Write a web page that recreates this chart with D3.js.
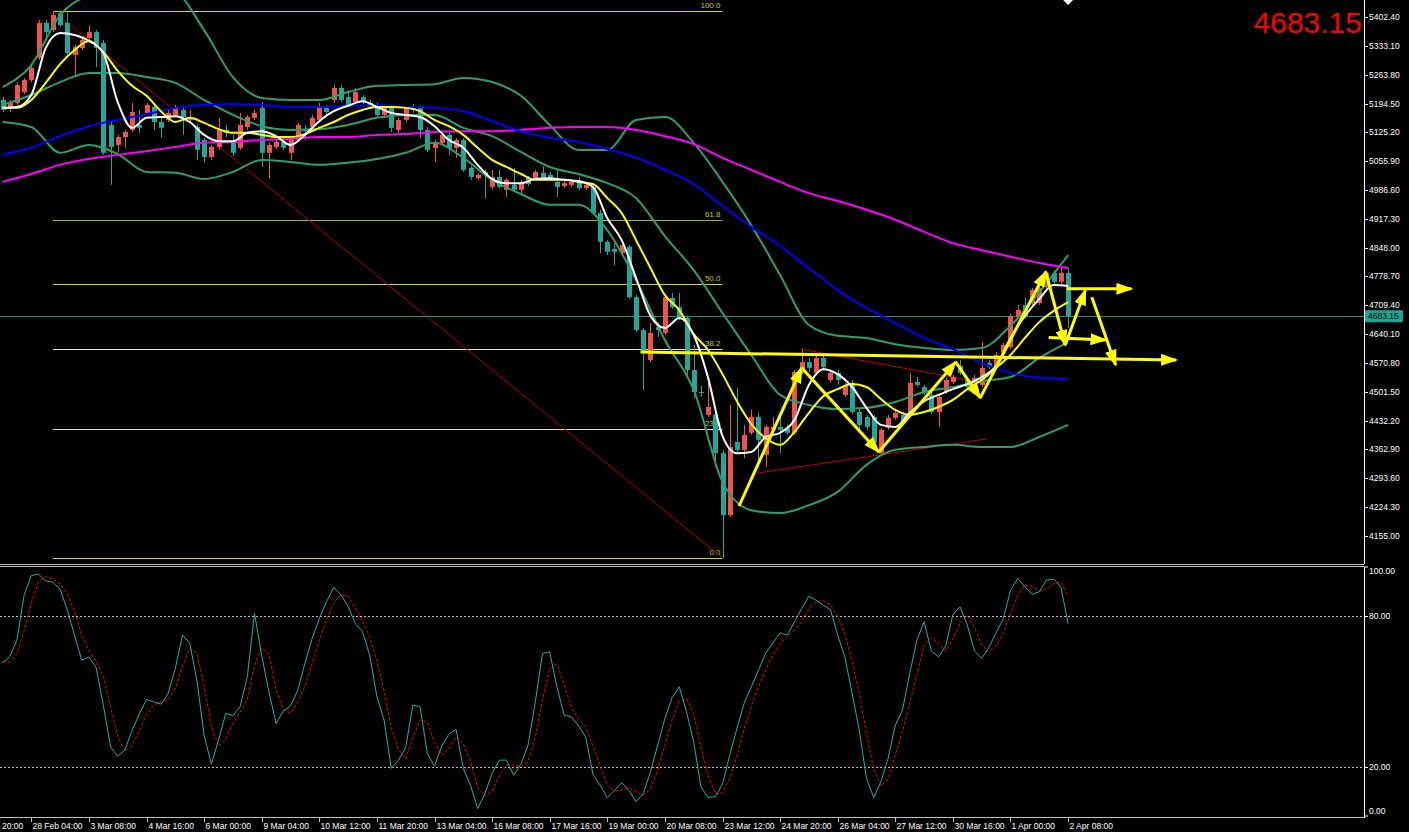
<!DOCTYPE html>
<html><head><meta charset="utf-8">
<script src="https://cdn.jsdelivr.net/npm/d3@7"></script>
<style>
html,body{margin:0;padding:0;background:#000;overflow:hidden}
svg{display:block}
text{font-family:"Liberation Sans",Arial,sans-serif}
</style></head><body>
<svg id="c" width="1409" height="832"></svg>
<script>
// ---------- DATA (H4 candles, bar index 0..148) ----------
const opens=[5203,5184,5196,5222,5251,5304,5388,5371,5412,5388,5311,5328,5352,5366,5340,5143,5095,5114,5131,5143,5172,5186,5150,5155,5167,5179,5155,5138,5107,5066,5090,5131,5102,5088,5138,5160,5184,5076,5090,5102,5076,5107,5133,5138,5155,5184,5203,5232,5210,5198,5210,5196,5184,5167,5184,5131,5155,5184,5184,5131,5088,5100,5119,5088,5107,5040,5015,5030,4994,5018,4987,4999,4987,5015,5015,5028,5023,5006,4996,4999,5006,4991,4994,4931,4862,4845,4835,4850,4729,4650,4578,4657,4643,4727,4705,4679,4554,4501,4446,4446,4354,4205,4381,4362,4403,4441,4350,4410,4417,4415,4403,4549,4573,4547,4583,4530,4547,4494,4523,4453,4441,4441,4354,4415,4439,4446,4451,4525,4513,4494,4453,4501,4525,4564,4530,4523,4518,4571,4561,4595,4609,4681,4710,4715,4715,4753,4787,4766,4787];
const highs=[5210,5203,5246,5256,5285,5395,5395,5417,5417,5414,5335,5352,5381,5371,5347,5150,5119,5131,5196,5179,5196,5191,5160,5179,5191,5189,5179,5143,5112,5095,5160,5143,5119,5172,5167,5179,5198,5100,5107,5112,5112,5148,5143,5167,5196,5191,5239,5239,5227,5232,5215,5203,5196,5191,5189,5160,5186,5193,5189,5138,5107,5124,5124,5112,5112,5044,5028,5035,5035,5035,5015,5040,5011,5020,5035,5044,5030,5035,5008,5011,5018,5003,4999,4939,4866,4859,4859,4854,4734,4655,4667,4669,4734,4739,4739,4684,4614,4516,4530,4463,4362,4470,4511,4422,4458,4451,4422,4441,4441,4422,4554,4604,4583,4590,4588,4554,4554,4523,4530,4463,4446,4446,4415,4446,4455,4453,4547,4537,4518,4501,4494,4535,4542,4578,4537,4542,4621,4578,4597,4619,4689,4710,4727,4751,4763,4790,4794,4799,4799];
const lows=[5174,5174,5191,5217,5246,5299,5347,5366,5378,5311,5263,5323,5347,5282,5071,4999,5076,5088,5126,5124,5167,5131,5112,5150,5162,5119,5150,5059,5052,5059,5083,5114,5068,5083,5131,5155,5042,5015,5085,5083,5059,5102,5107,5131,5150,5167,5196,5198,5186,5193,5193,5181,5162,5160,5126,5124,5150,5172,5112,5078,5054,5095,5071,5064,5030,5011,5011,4967,4987,4991,4970,4982,4975,4996,5011,5011,5008,4970,4991,4994,4987,4987,4927,4835,4830,4806,4830,4725,4645,4506,4573,4633,4638,4701,4674,4542,4487,4489,4441,4321,4102,4201,4357,4342,4398,4321,4321,4403,4354,4398,4398,4544,4549,4542,4554,4525,4518,4489,4448,4410,4410,4369,4350,4410,4434,4422,4446,4513,4494,4448,4417,4496,4520,4542,4508,4516,4513,4556,4554,4588,4604,4677,4677,4710,4710,4749,4761,4761,4655];
const closes=[5179,5196,5239,5251,5280,5388,5366,5407,5383,5316,5330,5347,5366,5328,5076,5090,5114,5126,5174,5136,5191,5150,5136,5172,5184,5162,5160,5083,5066,5090,5131,5124,5076,5143,5162,5172,5076,5095,5102,5088,5107,5143,5128,5160,5184,5174,5232,5203,5191,5222,5198,5186,5167,5186,5136,5155,5184,5179,5131,5083,5100,5119,5088,5107,5035,5018,5023,5023,5018,4994,5011,4987,5006,5001,5030,5015,5013,4994,5003,5006,4991,4999,4931,4862,4838,4838,4854,4729,4650,4595,4643,4650,4729,4705,4681,4554,4501,4499,4465,4354,4205,4369,4362,4398,4441,4386,4417,4417,4410,4403,4549,4573,4559,4583,4561,4547,4530,4518,4453,4422,4417,4379,4410,4439,4451,4427,4523,4518,4499,4453,4489,4530,4537,4547,4513,4535,4559,4561,4590,4614,4684,4698,4681,4746,4751,4787,4766,4787,4683.15];
const lastPrice=4683.15;

// indicator lines sampled every 4 bars (0,4,...,148)
const bbUpper=[5234,5287,5407,5455,5472,5479,5463,5371,5258,5208,5203,5203,5222,5237,5239,5241,5256,5246,5213,5143,5083,5083,5155,5162,5100,5006,4902,4782,4662,4636,4631,4616,4607,4602,4607,4660,4741,4830];
const bbMiddle=[5191,5215,5246,5268,5268,5258,5244,5203,5167,5140,5131,5133,5143,5160,5167,5167,5136,5116,5078,5042,5025,5003,4967,4876,4794,4691,4590,4494,4470,4460,4463,4477,4501,4513,4527,4537,4583,4621];
const bbLower=[5150,5138,5076,5095,5073,5030,5028,5013,5030,5059,5054,5047,5052,5061,5076,5100,5064,5011,4977,4951,4951,4890,4770,4626,4506,4285,4217,4210,4229,4261,4326,4362,4369,4374,4369,4369,4393,4422];
const maBlue=[5071,5088,5116,5140,5155,5169,5184,5191,5193,5191,5186,5186,5189,5189,5186,5184,5176,5152,5128,5112,5102,5085,5064,5035,5001,4948,4898,4852,4799,4746,4703,4667,4631,4604,4571,4547,4535,4532];
const maMagenta=[5006,5025,5047,5061,5071,5080,5090,5100,5102,5107,5109,5114,5114,5119,5121,5126,5128,5128,5131,5136,5138,5138,5131,5116,5097,5064,5035,5006,4979,4960,4939,4915,4886,4859,4842,4826,4811,4799];
// fast lines sampled every 2 bars (0,2,...,148)
const maWhite=[5184,5186,5215,5328,5364,5359,5345,5316,5198,5136,5160,5162,5164,5150,5119,5104,5104,5124,5128,5116,5095,5119,5152,5176,5189,5200,5186,5172,5167,5162,5140,5107,5088,5047,5013,5003,5003,5013,5015,5011,5008,4994,4919,4866,4775,4684,4655,4679,4638,4535,4395,4354,4357,4393,4403,4434,4518,4556,4544,4513,4463,4422,4417,4451,4479,4494,4508,4520,4537,4564,4631,4684,4725,4758,4756];
const maYellow=[5184,5184,5203,5244,5289,5323,5345,5318,5273,5237,5213,5176,5150,5160,5148,5133,5124,5124,5119,5114,5114,5121,5136,5150,5167,5179,5186,5186,5184,5176,5155,5140,5119,5088,5059,5042,5025,5011,5011,5011,5006,5001,4967,4931,4866,4799,4734,4698,4640,4602,4544,4479,4424,4390,4374,4405,4451,4491,4508,4520,4513,4484,4458,4446,4453,4465,4482,4508,4530,4559,4590,4631,4669,4696,4717];

// stochastic
const stochK=[61.4,63.8,70.5,88.4,96.3,96.8,94.2,93.6,90.8,82.5,72.5,62.5,63.8,59.6,44.6,27.9,24.2,26.6,34.6,41.0,46.8,45.9,44.9,49.2,59.2,72.5,69.4,54.5,32.6,21.0,30.6,41.2,40.4,43.9,55.9,81.1,64.5,49.9,37.2,42.3,44.2,50.5,61.2,71.1,79.1,85.8,91.5,88.7,84.0,77.1,73.9,64.5,47.9,38.6,19.3,22.6,27.7,44.6,43.9,25.3,20.2,28.2,33.0,34.8,19.3,12.6,3.3,9.3,17.3,22.6,22.6,16.6,21.0,28.6,45.9,65.2,65.8,51.9,40.6,39.9,36.3,31.9,17.0,12.6,7.7,10.6,13.6,10.6,6.0,9.3,18.0,28.6,39.2,47.6,51.9,41.9,29.9,12.0,7.7,8.0,13.0,24.6,35.2,45.2,51.9,58.5,65.4,69.2,73.4,72.5,77.8,83.1,88.0,86.4,84.4,82.7,72.5,63.8,49.2,34.6,15.3,7.7,14.0,23.3,36.6,42.6,57.2,70.5,77.8,66.2,63.8,68.1,80.7,83.8,76.5,66.2,63.2,67.6,73.4,79.1,90.4,95.1,91.8,88.8,89.8,94.4,94.8,91.8,77.1];
const stochD=[62,62,65.2,74.2,85.1,93.8,95.8,94.9,92.9,89.0,81.9,72.5,66.3,62.0,56.0,44.0,32.2,26.2,28.5,34.1,40.8,44.6,45.9,46.7,51.1,60.3,67.0,65.5,52.2,36.0,28.1,30.9,37.4,41.8,46.7,60.3,67.2,65.2,50.5,43.1,41.2,45.7,52.0,60.9,70.5,78.7,85.5,88.7,88.1,83.3,78.3,71.8,62.1,50.3,35.3,26.8,23.2,31.6,38.7,37.9,29.8,24.6,27.1,32.0,29.0,22.2,11.7,8.4,10.0,16.4,20.8,20.6,20.1,22.1,31.8,46.6,59.0,61.0,52.8,44.1,38.9,36.0,28.4,20.5,12.4,10.3,10.6,11.6,10.1,8.6,11.1,18.6,28.6,38.5,46.2,47.1,41.2,27.9,16.5,9.2,9.6,15.2,24.3,35.0,44.1,51.9,58.6,64.4,69.3,71.7,74.6,77.8,83.0,85.8,86.3,84.5,79.9,73.0,61.8,49.2,33.0,19.2,12.3,15.0,24.6,34.2,45.5,56.8,68.5,71.5,69.3,66.0,70.9,77.5,80.3,75.5,68.6,65.7,68.1,73.4,81.0,88.2,92.4,91.9,90.1,91.0,93.0,93.7,87.9];
const stochLevels=[20,80];
const stochTicks=[100,80,20,0];

// axis labels
const priceTicks=[4155.00,4224.30,4293.60,4362.90,4432.20,4501.50,4570.80,4640.10,4709.40,4778.70,4848.00,4917.30,4986.60,5055.90,5125.20,5194.50,5263.80,5333.10,5402.40];
const timeLabels=["20:00","28 Feb 04:00","3 Mar 08:00","4 Mar 16:00","6 Mar 00:00","9 Mar 04:00","10 Mar 12:00","11 Mar 20:00","13 Mar 04:00","16 Mar 08:00","17 Mar 16:00","19 Mar 00:00","20 Mar 08:00","23 Mar 12:00","24 Mar 20:00","26 Mar 04:00","27 Mar 12:00","30 Mar 16:00","1 Apr 00:00","2 Apr 08:00"];
const timeLabelBars=[-4,4,12,20,28,36,44,52,60,68,76,84,92,100,108,116,124,132,140,148];

// fibonacci
const fibLevels=[0,23.6,38.2,50,61.8,100];
const fibLabels=["0.0","23.6","38.2","50.0","61.8","100.0"];
const fibHigh=5417, fibLow=4102, fibStartBar=7, fibEndBar=100;

// drawn objects [bar, price]
const zigzag=[[102.3,4227],[111.0,4559],[121.7,4357],[132.4,4573],[135.8,4487],[144.9,4790],[147.6,4614],[150.4,4746]];
const yellowArrows=[[[88.6,4597],[163.0,4578]],[[147.8,4749],[156.8,4749]],[[145.3,4632],[153.2,4626]],[[151.3,4729],[154.6,4566]]];
const redLines=[[[110.9,4604],[135.6,4525]],[[104.8,4306],[136.7,4388]]];

// ---------- SCALES ----------
const svg=d3.select('#c');
const AX=1364;
const x=d3.scaleLinear().domain([0,148]).range([2.5,1068.1]);
const y=d3.scaleLinear().domain([4090,5443.3]).range([563,0]);
const ys=d3.scaleLinear().domain([0,100]).range([816.8,566.2]);

svg.append('rect').attr('width',1409).attr('height',832).attr('fill','#000');
const defs=svg.append('defs');
defs.append('clipPath').attr('id','cm').append('rect').attr('x',0).attr('y',0).attr('width',AX).attr('height',564);
defs.append('clipPath').attr('id','cs').append('rect').attr('x',0).attr('y',567).attr('width',AX).attr('height',250);
defs.append('marker').attr('id','ah').attr('viewBox','0 0 17 12').attr('refX',15).attr('refY',6)
  .attr('markerWidth',17).attr('markerHeight',12).attr('markerUnits','userSpaceOnUse').attr('orient','auto')
  .append('path').attr('d','M0,0L17,6L0,12Z').attr('fill','#ffff00');

const gm=svg.append('g').attr('clip-path','url(#cm)');

// fib lines
const fibP=l=>fibLow+(fibHigh-fibLow)*l/100;
const fibCol={0:'#d8d800',23.6:'#e0e0c0',38.2:'#e8e8c8',50:'#d8d800',61.8:'#b0b000',100:'#d8d800'};
fibLevels.forEach((l,i)=>{
  gm.append('line').attr('x1',x(fibStartBar)).attr('x2',x(fibEndBar)).attr('y1',Math.round(y(fibP(l)))+0.5).attr('y2',Math.round(y(fibP(l)))+0.5)
    .attr('stroke',fibCol[l]).attr('stroke-width',1);
  gm.append('text').attr('x',x(fibEndBar)-2).attr('y',y(fibP(l))-3).attr('text-anchor','end')
    .attr('font-size',8).attr('fill','#c8c800').text(fibLabels[i]);
});
gm.append('line').attr('x1',x(fibStartBar)).attr('y1',y(fibHigh)).attr('x2',x(fibEndBar)).attr('y2',y(fibLow))
  .attr('stroke','#b00000').attr('stroke-width',1);

// red trend lines
redLines.forEach(s=>gm.append('line').attr('x1',x(s[0][0])).attr('y1',y(s[0][1])).attr('x2',x(s[1][0])).attr('y2',y(s[1][1]))
  .attr('stroke','#c00000').attr('stroke-width',1));

// current price line
gm.append('line').attr('x1',0).attr('x2',AX).attr('y1',Math.round(y(lastPrice))+0.5).attr('y2',Math.round(y(lastPrice))+0.5)
  .attr('stroke','#1f8f86').attr('stroke-width',1);

// candles
const bull='#ef5350', bear='#26a69a';
d3.range(opens.length).forEach(i=>{
  const o=opens[i],c=closes[i],h=highs[i],l=lows[i];
  const col=c>=o?bull:bear;
  const cx=Math.round(x(i))+0.5;
  gm.append('line').attr('x1',cx).attr('x2',cx).attr('y1',y(h)).attr('y2',y(l)).attr('stroke',col).attr('stroke-width',1);
  const t=y(Math.max(o,c)), b=y(Math.min(o,c));
  gm.append('rect').attr('x',cx-2.5).attr('width',5).attr('y',t).attr('height',Math.max(1,b-t)).attr('fill',col);
});

// indicator lines
const line4=d3.line().x((d,i)=>x(i*4)).y(d=>y(d)).curve(d3.curveMonotoneX);
const line2=d3.line().x((d,i)=>x(i*2)).y(d=>y(d)).curve(d3.curveMonotoneX);
[bbUpper,bbMiddle,bbLower].forEach(a=>gm.append('path').attr('d',line4(a)).attr('fill','none').attr('stroke','#2f9e68').attr('stroke-width',2));
gm.append('path').attr('d',line4(maMagenta)).attr('fill','none').attr('stroke','#ff00ff').attr('stroke-width',2);
gm.append('path').attr('d',line4(maBlue)).attr('fill','none').attr('stroke','#0000ff').attr('stroke-width',2);
gm.append('path').attr('d',line2(maYellow)).attr('fill','none').attr('stroke','#ffff00').attr('stroke-width',2);
gm.append('path').attr('d',line2(maWhite)).attr('fill','none').attr('stroke','#ffffff').attr('stroke-width',2);

// yellow arrows
const ya=(a,b)=>gm.append('line').attr('x1',x(a[0])).attr('y1',y(a[1])).attr('x2',x(b[0])).attr('y2',y(b[1]))
  .attr('stroke','#ffff00').attr('stroke-width',3).attr('marker-end','url(#ah)');
for(let i=0;i<zigzag.length-1;i++) ya(zigzag[i],zigzag[i+1]);
yellowArrows.forEach(s=>ya(s[0],s[1]));

// shift marker
gm.append('path').attr('d',`M${x(148)-5},0L${x(148)+5},0L${x(148)},5Z`).attr('fill','#ffffff');

// big price text
svg.append('text').attr('x',1362).attr('y',33).attr('text-anchor','end').attr('font-size',30).attr('fill','#ff0000').text(lastPrice.toFixed(2));

// frames
svg.append('line').attr('x1',0).attr('x2',AX).attr('y1',564.5).attr('y2',564.5).attr('stroke','#c0c0c0');
svg.append('line').attr('x1',0).attr('x2',AX).attr('y1',566.5).attr('y2',566.5).attr('stroke','#c0c0c0');
svg.append('line').attr('x1',0).attr('x2',AX).attr('y1',817.5).attr('y2',817.5).attr('stroke','#c0c0c0');
svg.append('line').attr('x1',AX+0.5).attr('x2',AX+0.5).attr('y1',0).attr('y2',564).attr('stroke','#ffffff');
svg.append('line').attr('x1',AX+0.5).attr('x2',AX+0.5).attr('y1',567).attr('y2',818).attr('stroke','#ffffff');

// price axis
priceTicks.forEach(p=>{
  const yy=Math.round(y(p))+0.5;
  svg.append('line').attr('x1',AX).attr('x2',AX+4).attr('y1',yy).attr('y2',yy).attr('stroke','#ffffff');
  svg.append('text').attr('x',AX+5).attr('y',yy).attr('dy','0.35em').attr('font-size',8.5).attr('fill','#ffffff').text(p.toFixed(2));
});
const py=y(lastPrice);
svg.append('rect').attr('x',AX+1).attr('y',py-6).attr('width',38).attr('height',12).attr('fill','#1fa393');
svg.append('text').attr('x',AX+4).attr('y',py).attr('dy','0.35em').attr('font-size',8.5).attr('fill','#000').text(lastPrice.toFixed(2));

// stochastic panel
const gs=svg.append('g').attr('clip-path','url(#cs)');
stochLevels.forEach(v=>gs.append('line').attr('x1',0).attr('x2',AX).attr('y1',Math.round(ys(v))+0.5).attr('y2',Math.round(ys(v))+0.5)
  .attr('stroke','#c0c0c0').attr('stroke-dasharray','2,2'));
const sl=d3.line().x((d,i)=>x(i)).y(d=>ys(d));
gs.append('path').attr('d',sl(stochD)).attr('fill','none').attr('stroke','#ff0000').attr('stroke-width',1).attr('stroke-dasharray','3,2');
gs.append('path').attr('d',sl(stochK)).attr('fill','none').attr('stroke','#20b0a8').attr('stroke-width',1);
stochTicks.forEach(v=>{
  const yy=Math.round(ys(v))+0.5;
  const ly=Math.min(811,Math.max(571,yy));
  svg.append('line').attr('x1',AX).attr('x2',AX+4).attr('y1',Math.min(816,Math.max(567,yy))).attr('y2',Math.min(816,Math.max(567,yy))).attr('stroke','#ffffff');
  svg.append('text').attr('x',AX+5).attr('y',ly).attr('dy','0.35em').attr('font-size',8.5).attr('fill','#ffffff').text(v.toFixed(2));
});

// time axis (first label is only partly visible in the reference: its time part sits at the left edge)
timeLabels.forEach((t,i)=>{
  const xx=Math.round(x(timeLabelBars[i]))+0.5;
  if(xx>0) svg.append('line').attr('x1',xx).attr('x2',xx).attr('y1',818).attr('y2',822).attr('stroke','#c0c0c0');
  svg.append('text').attr('x',Math.max(2,xx+1)).attr('y',829).attr('font-size',8.5).attr('fill','#ffffff').text(t);
});
</script>
</body></html>
